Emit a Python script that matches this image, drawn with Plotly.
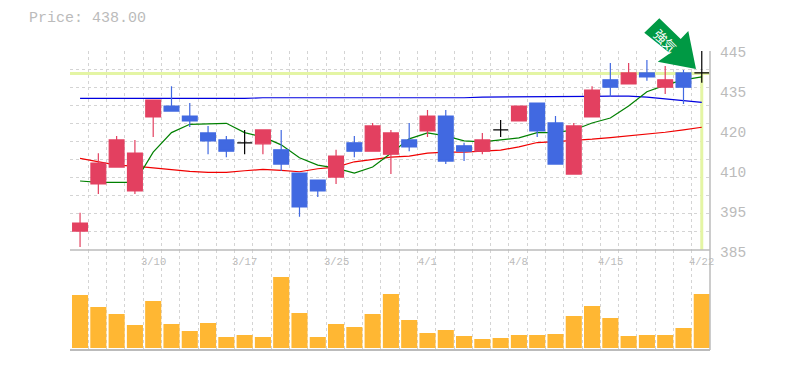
import plotly.graph_objects as go

dates = ["3/10", "3/17", "3/25", "4/1", "4/8", "4/15", "4/22"]
date_idx = [4, 9, 14, 19, 24, 29, 34]
price_title = "Price: 438.00"
last_price = 438.2
y_labels = ["445", "435", "420", "410", "395", "385"]
y_label_pos = [444.4, 432.3, 420.3, 408.2, 396.2, 384.1]

opens = [390.7,404.9,410,402.8,425.1,428.4,425.4,420.3,418.2,417.3,417,415.2,408.2,406.1,407,417.3,414.8,413.9,418.2,420.9,425.4,416.4,414.8,421.2,423.9,429.3,423.3,407.9,425.1,436.3,435.05,438.4,434.1,438.4,438.4]
highs = [396.2,414.2,419.4,418.2,430.2,434.4,429.3,422.4,419.4,421.2,421.2,421.2,408.2,406.1,415.2,419.4,423.3,421.2,423.3,427.2,427.2,417.3,420.3,424.2,428.4,429.3,425.4,423.3,434.4,441.4,441.4,442.3,440.5,439.3,445.3]
lows = [385.9,401.9,410,401.9,419.1,426.9,422.1,413.9,413,413.9,413.9,408.8,395,401,404.9,413,414.8,407.9,414.8,419.1,410.9,411.8,413.9,419.1,423.9,419.1,410.9,407.9,425.1,431.1,435.05,436,432,429,435.4]
closes = [393.1,411.2,418.2,414.2,430.2,426.9,423.9,417.9,414.8,417.3,421.2,410.9,398,402.8,413.3,414.8,422.4,420.3,416.1,425.4,411.8,414.8,418.2,421.2,428.4,420.9,410.9,422.4,433.2,434.1,438.4,437.2,436.3,434.1,438.4]
ma_short = [405.8,405.4,405.4,405.4,414.5,420.4,422.9,423,423.2,420.4,419.1,416.7,412.8,410.6,409.7,408.2,410,414.2,418.5,420.3,419.4,417.9,417.6,418.2,418.8,420.4,420.4,421.2,423.3,424.8,428.4,432.7,434.7,436.3,437.2]
ma_mid = [412.6,411.6,410.6,410.3,409.7,409.1,408.7,408.4,408.4,408.9,409.3,409,408.6,409.5,410,411.6,412.4,413,413.3,414.2,414.5,414.5,414.8,415.1,416.1,417.4,417.7,418,418.4,418.9,419.4,420,420.5,421.2,422]
ma_long = [430.7,430.7,430.7,430.5,430.7,430.7,430.7,430.7,430.7,430.7,430.9,430.9,430.9,430.7,430.7,430.7,430.7,430.7,430.9,430.9,430.9,430.9,431.1,431.1,431.3,431.3,431.3,431.3,431.3,431.4,431.4,431.1,430.6,430.2,429.5]
volume = [53,41,34,23,47,24,17,25,11,13,11,71,35,11,24,21,34,54,28,15,18,12,9,10,13,13,14,32,42,30,12,13,13,20,54]

RED, BLUE, GREY, GRID, PALE = "#E34060", "#4169E1", "#BBBBBB", "#D4D4D4", "#E4F5A4"
idx = list(range(len(opens)))
flat = [i for i in idx if opens[i] == closes[i]]
rest = [i for i in idx if i not in flat]
X0, X1 = -0.55, 34.45

def px(x, y):
    return (x - 70) / 640, (350 - y) / 299

def price_to_paper(p):
    return (p - 385) / 60 * (199 / 299) + 100 / 299

fig = go.Figure()
fig.add_trace(go.Scatter(x=[X0, X1], y=[last_price, last_price], mode="lines", line=dict(color=PALE, width=3), yaxis="y"))
fig.add_trace(go.Scatter(x=[idx[-1], idx[-1]], y=[385, last_price], mode="lines", line=dict(color=PALE, width=3), yaxis="y"))
for series, colour in ((ma_long, "#0000E0"), (ma_mid, "#F00000"), (ma_short, "#008000")):
    fig.add_trace(go.Scatter(x=idx, y=series, mode="lines", line=dict(color=colour, width=1.2), yaxis="y"))
fig.add_trace(go.Candlestick(
    x=rest, open=[opens[i] for i in rest], high=[highs[i] for i in rest],
    low=[lows[i] for i in rest], close=[closes[i] for i in rest], yaxis="y3", whiskerwidth=0,
    increasing=dict(line=dict(color=RED, width=1.2), fillcolor=RED),
    decreasing=dict(line=dict(color=BLUE, width=1.2), fillcolor=BLUE)))
fig.add_trace(go.Candlestick(
    x=flat, open=[closes[i] for i in flat], high=[highs[i] for i in flat],
    low=[lows[i] for i in flat], close=[closes[i] for i in flat], yaxis="y3", whiskerwidth=0,
    increasing=dict(line=dict(color="#000000", width=1.2), fillcolor="#000000"),
    decreasing=dict(line=dict(color="#000000", width=1.2), fillcolor="#000000")))
fig.add_trace(go.Bar(x=idx, y=volume, marker=dict(color="#FFB733", line=dict(width=0)), yaxis="y2"))

annotations = [dict(text=price_title, xref="paper", yref="paper", x=px(27, 0)[0], y=px(0, 18)[1], xanchor="left",
                    yanchor="middle", showarrow=False, font=dict(family="Liberation Mono", size=15, color=GREY))]
for label, pos in zip(y_labels, y_label_pos):
    annotations.append(dict(text=label, xref="paper", yref="paper", x=px(718, 0)[0], y=price_to_paper(pos), xanchor="left", yanchor="middle",
                            showarrow=False, font=dict(family="Liberation Mono", size=14.5, color=GREY)))
for label, i in zip(dates, date_idx):
    annotations.append(dict(text=label, xref="x", yref="paper", x=i, y=px(0, 262)[1], xanchor="center", yanchor="middle",
                            showarrow=False, font=dict(family="Liberation Mono", size=10.5, color=GREY)))

arrow_px = [(659.3, 18.3), (680.7, 39), (688.3, 31), (696, 69), (657.7, 61.7), (670, 53.3), (644.3, 32.7)]
path = " ".join(("M" if k == 0 else "L") + " %.4f %.4f" % px(*p) for k, p in enumerate(arrow_px)) + " Z"
shapes = [dict(type="path", path=path, xref="paper", yref="paper", fillcolor="#009944", line=dict(width=0), layer="above")]
annotations.append(dict(text="強気", xref="paper", yref="paper", x=px(665.5, 0)[0], y=px(0, 40)[1], xanchor="center", yanchor="middle",
                        showarrow=False, textangle=45, font=dict(family="Noto Sans CJK JP", size=13, color="#FFFFFF")))

grid = dict(showgrid=True, gridcolor=GRID, griddash="3px,3px", gridwidth=1.2, zeroline=False)
fig.update_layout(
    width=785, height=370, autosize=False, showlegend=False, plot_bgcolor="white", paper_bgcolor="white",
    margin=dict(l=70, r=75, t=51, b=20), boxgap=0.19, boxgroupgap=0, boxmode="overlay", bargap=0.12, hovermode=False,
    annotations=annotations, shapes=shapes,
    xaxis=dict(range=[X0, X1], tick0=X0, dtick=1, tickmode="linear", showticklabels=False, ticks="", rangeslider=dict(visible=False), anchor="y2", **grid),
    yaxis=dict(domain=[100 / 299, 1], range=[385, 445], tickmode="linear", tick0=385, dtick=60 / 11, showticklabels=False, ticks="", **grid),
    yaxis2=dict(domain=[0, 100 / 299], range=[-2, 98], showgrid=False, zeroline=False, showticklabels=False, ticks=""),
    yaxis3=dict(domain=[100 / 299, 1], range=[385, 445], overlaying="y", visible=False),
)
fig.add_shape(type="line", xref="paper", yref="paper", x0=0, x1=1, y0=0, y1=0, line=dict(color=GREY, width=2), layer="above")
fig.add_shape(type="line", xref="paper", yref="paper", x0=0, x1=1, y0=100 / 299, y1=100 / 299, line=dict(color=GREY, width=1.5), layer="above")
fig.add_shape(type="line", xref="paper", yref="paper", x0=1, x1=1, y0=0, y1=1, line=dict(color=GREY, width=1.5), layer="above")
fig.write_html("out.html", config={"displayModeBar": False}, post_script="document.body.style.margin='0';document.body.style.overflow='hidden';")
